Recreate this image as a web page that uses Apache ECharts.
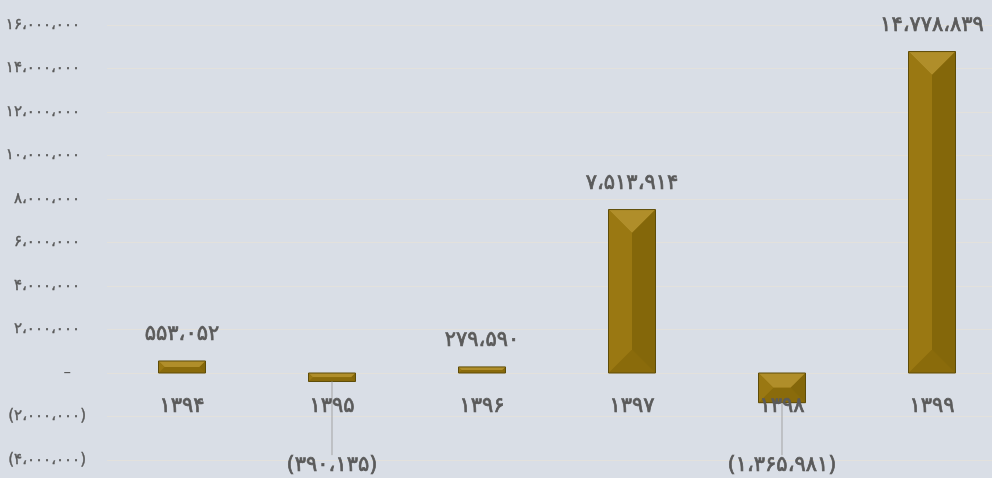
<!DOCTYPE html>
<html><head><meta charset="utf-8">
<script src="https://cdn.jsdelivr.net/npm/echarts@6/dist/echarts.min.js"></script>
<style>html,body{margin:0;padding:0;background:#d9dee6;}#c{width:992px;height:478px;}</style>
</head><body><div id="c"></div>
<script>
const categories = ['۱۳۹۴','۱۳۹۵','۱۳۹۶','۱۳۹۷','۱۳۹۸','۱۳۹۹'];
const values = [553052, -390135, 279590, 7513914, -1365981, 14778839];
const yMin = -4000000, yMax = 16000000, yStep = 2000000;

function fa(n){
  const s = String(Math.abs(n)).replace(/\B(?=(\d{3})+(?!\d))/g, '،').replace(/\d/g, d => '۰۱۲۳۴۵۶۷۸۹'[d]);
  return n < 0 ? '(' + s + ')' : s;
}
const FONT = 'DejaVu Sans';
const TXT = '#5a5a5a';
const chart = echarts.init(document.getElementById('c'));
const BW = 47;
chart.setOption({
  backgroundColor: '#d9dee6',
  animation: false,
  grid: {left: 107, width: 900, top: 25, bottom: 18, containLabel: false, outerBoundsMode: 'none'},
  xAxis: {
    type: 'category', data: categories, offset: -87, z: 10,
    axisLine: {show: false}, axisTick: {show: false},
    axisLabel: {color: TXT, fontSize: 21, fontFamily: FONT, margin: 23, textBorderColor: TXT, textBorderWidth: 0.7}
  },
  yAxis: {
    type: 'value', min: yMin, max: yMax, interval: yStep,
    axisLine: {show: false}, axisTick: {show: false},
    splitLine: {lineStyle: {color: '#e3e1dc', width: 1}},
    axisLabel: {
      margin: 21, color: TXT, fontFamily: FONT, fontSize: 15,
      formatter: v => v === 0 ? '{z|–}' : (v > 0 ? '{p|' + fa(v) + '}' : '{n|' + fa(v) + '}'),
      rich: {
        p: {color: TXT, fontFamily: FONT, fontSize: 15, padding: [0, 6, 0, 0], textBorderColor: TXT, textBorderWidth: 0.4},
        n: {color: TXT, fontFamily: FONT, fontSize: 15, textBorderColor: TXT, textBorderWidth: 0.4},
        z: {color: TXT, fontFamily: FONT, fontSize: 15, padding: [0, 15, 0, 0]}
      }
    }
  },
  series: [
    {
      type: 'custom', z: 2,
      data: values.map((v, i) => [i, v]),
      renderItem: function(params, api){
        const i = api.value(0), v = api.value(1);
        const p0 = api.coord([i, 0]), p1 = api.coord([i, v]);
        const x0 = p0[0] - BW/2, x1 = p0[0] + BW/2;
        const yT = Math.min(p0[1], p1[1]), yB = Math.max(p0[1], p1[1]);
        const h = yB - yT, b = Math.min(BW, h) / 2;
        const poly = (pts, fill) => ({type: 'polygon', shape: {points: pts}, style: {fill: fill, stroke: null}});
        return {type: 'group', children: [
          {type: 'rect', shape: {x: x0, y: yT, width: BW, height: h}, style: {fill: '#8f700c'}},
          poly([[x0,yT],[x1,yT],[x1-b,yT+b],[x0+b,yT+b]], '#b08e2a'),
          poly([[x0,yB],[x1,yB],[x1-b,yB-b],[x0+b,yB-b]], '#8a6b0b'),
          poly([[x0,yT],[x0+b,yT+b],[x0+b,yB-b],[x0,yB]], '#9a7812'),
          poly([[x1,yT],[x1-b,yT+b],[x1-b,yB-b],[x1,yB]], '#84670a'),
          {type: 'rect', shape: {x: x0, y: yT, width: BW, height: h}, style: {fill: null, stroke: '#5e4c08', lineWidth: 1}}
        ]};
      }
    },
    {
      type: 'bar', z: 3, barWidth: BW,
      data: values.map(v => ({value: v, labelLine: {show: v < 0}})),
      itemStyle: {color: 'rgba(0,0,0,0)'},
      label: {
        show: true, position: 'top', distance: 16,
        color: TXT, fontSize: 21, fontFamily: FONT, textBorderColor: TXT, textBorderWidth: 0.7,
        formatter: p => fa(p.value)
      },
      labelLine: {lineStyle: {color: '#a3a3a3', width: 1}},
      labelLayout: function(p){
        if (values[p.dataIndex] < 0) {
          return {x: p.rect.x + p.rect.width/2, y: 466, align: 'center', verticalAlign: 'middle'};
        }
        return {};
      }
    }
  ]
});
</script></body></html>
